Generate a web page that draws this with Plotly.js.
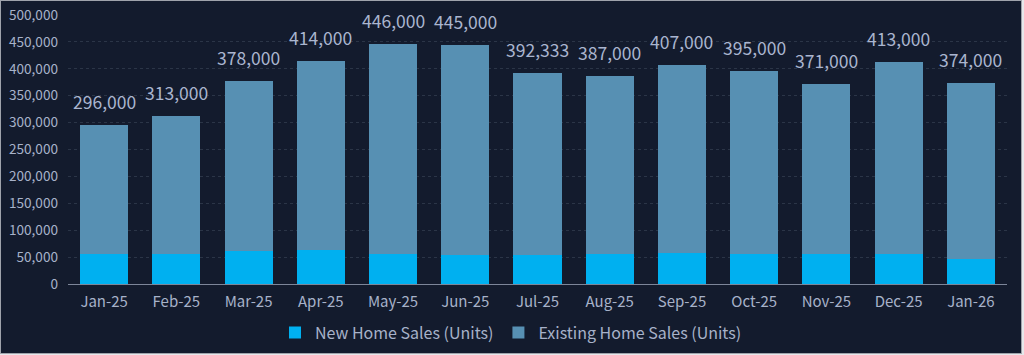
<!DOCTYPE html>
<html>
<head>
<meta charset="utf-8">
<script src="https://cdn.plot.ly/plotly-3.0.1.min.js"></script>
<style>
  html, body { margin: 0; padding: 0; background: #e6e7ea; }
  #frame { width: 1020px; height: 352px; border: 1px solid #9fa3ab; background: #131b2d; }
  #chart { width: 1020px; height: 352px; }
</style>
</head>
<body>
<div id="frame"><div id="chart"></div></div>
<script>
const months = ["Jan-25","Feb-25","Mar-25","Apr-25","May-25","Jun-25","Jul-25","Aug-25","Sep-25","Oct-25","Nov-25","Dec-25","Jan-26"];
const totalSales = [296000, 313000, 378000, 414000, 446000, 445000, 392333, 387000, 407000, 395000, 371000, 413000, 374000];
const newHomeSales = [55000, 55000, 61000, 63000, 55000, 53000, 53000, 56000, 58000, 56000, 55000, 56000, 47000];
const existingHomeSales = totalSales.map((t, i) => t - newHomeSales[i]);

const FONT = "Noto Sans CJK JP, Noto Sans, sans-serif";
const TXT = "#a7b2c9";

const traces = [
  { type: "bar", name: "New Home Sales (Units)", x: months, y: newHomeSales,
    marker: { color: "#00b0f0" }, hoverinfo: "skip" },
  { type: "bar", name: "Existing Home Sales (Units)", x: months, y: existingHomeSales,
    marker: { color: "#5790b3" }, hoverinfo: "skip" }
];

const annotations = months.map((m, i) => ({
  x: m, y: totalSales[i], xref: "x", yref: "y",
  text: totalSales[i].toLocaleString("en-US"),
  showarrow: false, yanchor: "bottom", yshift: 9,
  font: { family: FONT, size: 17.5, color: "#aab5cf" }
}));

const layout = {
  width: 1020, height: 352,
  paper_bgcolor: "#131b2d", plot_bgcolor: "#131b2d",
  margin: { l: 67, r: 14, t: 14, b: 69, autoexpand: false },
  barmode: "stack", bargap: 0.335,
  font: { family: FONT, size: 13, color: TXT },
  xaxis: { type: "category", showgrid: false, showline: true, linecolor: "#7d8699", linewidth: 1,
           ticks: "", ticklabelstandoff: 4, tickfont: { size: 15, color: TXT } },
  yaxis: { range: [0, 500000], dtick: 50000, tickformat: ",", showgrid: true,
           gridcolor: "#2b3547", griddash: "dot", gridwidth: 1, zeroline: false, showline: false,
           ticks: "", ticklabelstandoff: 9, tickfont: { size: 13.6, color: TXT } },
  showlegend: true,
  legend: { orientation: "h", x: 0.5, xref: "container", xanchor: "center",
            y: 0.058, yref: "container", yanchor: "middle",
            font: { size: 16, color: TXT }, traceorder: "normal", itemclick: false,
            entrywidthmode: "pixels" },
  annotations: annotations
};

Plotly.newPlot("chart", traces, layout, { displayModeBar: false, staticPlot: true });
</script>
</body>
</html>
